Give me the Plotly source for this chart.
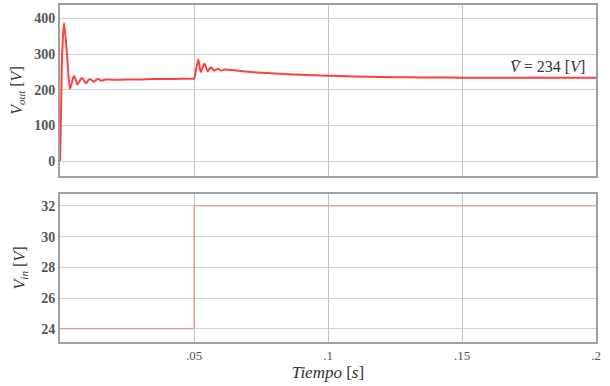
import plotly.graph_objects as go
from plotly.subplots import make_subplots

# Output voltage of the converter (s, V)
t_out = [0, 0.00037, 0.0008, 0.0015, 0.0026, 0.0037, 0.0045, 0.0052, 0.0059, 0.0065,
         0.0074, 0.0082, 0.0090, 0.0097, 0.0105, 0.0112, 0.0120, 0.0127, 0.0135, 0.0142,
         0.0150, 0.0158, 0.0170, 0.0185, 0.020, 0.025, 0.030, 0.035, 0.040, 0.045, 0.0499,
         0.0501, 0.0516, 0.0525, 0.0539, 0.0551, 0.0563, 0.0575, 0.0590, 0.0601, 0.0614,
         0.065, 0.070, 0.075, 0.080, 0.090, 0.100, 0.110, 0.120, 0.130, 0.140, 0.150,
         0.175, 0.200]
v_out = [0, 130, 300, 388, 300, 203, 222, 239, 228, 215,
         226, 233, 226, 218, 226, 230, 226, 223, 228, 230,
         227, 226, 229, 229, 228, 229, 229, 230, 230, 231, 231,
         232, 285, 250, 273, 252, 263, 254, 259, 254, 257,
         255, 251, 248, 246, 242, 239.5, 237.5, 236, 235, 234.5, 234,
         234, 234]

# Input voltage step (s, V)
t_in = [0, 0.05, 0.05, 0.2]
v_in = [24, 24, 32, 32]

v_mean = 234

x_ticks = [0.05, 0.1, 0.15, 0.2]
x_tick_text = [".05", ".1", ".15", ".2"]
y1_ticks = [0, 100, 200, 300, 400]
y2_ticks = [24, 26, 28, 30, 32]

fig = make_subplots(rows=2, cols=1, shared_xaxes=False, vertical_spacing=0.053,
                    row_heights=[0.507, 0.439])

fig.add_trace(go.Scatter(x=t_out, y=v_out, mode="lines",
                         line=dict(color="rgba(255,30,30,0.85)", width=2,
                                   shape="spline", smoothing=0.7),
                         showlegend=False), row=1, col=1)
fig.add_trace(go.Scatter(x=t_in, y=v_in, mode="lines",
                         line=dict(color="rgba(255,110,110,0.8)", width=1),
                         showlegend=False), row=2, col=1)

tick_font = dict(family="Liberation Serif", size=14, color="#555555")
grid = "#d2d2d2"
frame = "#a0a0a0"

common_x = dict(range=[0, 0.2], tickvals=x_ticks, showgrid=True, gridcolor="#c4c4c4",
                gridwidth=1, showline=True, linecolor=frame, linewidth=2, mirror=True,
                zeroline=False, ticks="")
fig.update_xaxes(**common_x, showticklabels=False, row=1, col=1)
fig.update_xaxes(**common_x, ticktext=x_tick_text,
                 tickfont=dict(family="Liberation Serif", size=13, color="#555555"),
                 title=dict(text="<i>Tiempo</i> [<i>s</i>]",
                            font=dict(family="Liberation Serif", size=17, color="#333333"),
                            standoff=3),
                 row=2, col=1)

common_y = dict(showgrid=True, gridcolor=grid, gridwidth=1, showline=True,
                linecolor=frame, linewidth=2, mirror=True, zeroline=False, ticks="",
                tickfont=tick_font)
fig.update_yaxes(**common_y, range=[-42, 438], tickvals=y1_ticks,
                 ticktext=[f"<b>{v}</b>" for v in y1_ticks],
                 title=dict(text="<i>V<sub>out</sub></i> [<i>V</i>]",
                            font=dict(family="Liberation Serif", size=16, color="#333333"),
                            standoff=8),
                 row=1, col=1)
fig.update_yaxes(**common_y, range=[23.14, 32.78], tickvals=y2_ticks,
                 ticktext=[f"<b>{v}</b>" for v in y2_ticks],
                 title=dict(text="<i>V<sub>in</sub></i> [<i>V</i>]",
                            font=dict(family="Liberation Serif", size=16, color="#333333"),
                            standoff=12),
                 row=2, col=1)

fig.add_annotation(x=0.1965, y=v_mean, xref="x", yref="y", text="<i>V̄</i> = 234 [<i>V</i>]",
                   showarrow=False, xanchor="right", yanchor="bottom", yshift=1,
                   font=dict(family="Liberation Serif", size=16, color="#333333"))

fig.update_layout(width=610, height=386, margin=dict(l=60, r=14, t=3, b=44),
                  plot_bgcolor="white", paper_bgcolor="white")

fig.write_html("out.html")
